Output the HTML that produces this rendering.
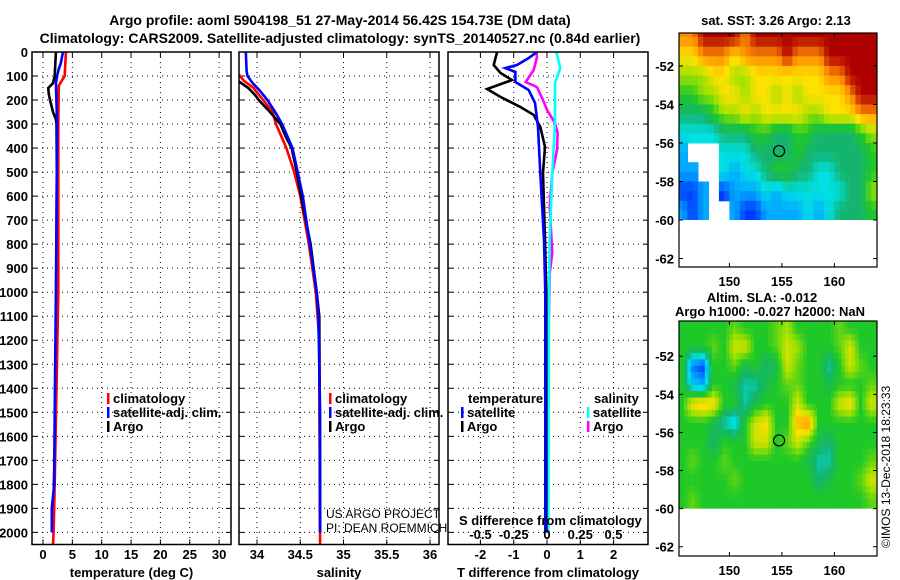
<!DOCTYPE html>
<html><head><meta charset="utf-8"><style>
html,body{margin:0;padding:0;background:#fff;}
svg{display:block;font-family:"Liberation Sans",Arial,sans-serif;}
.b{font-weight:bold;font-size:13px;}
</style></head><body>
<svg id="c" width="900" height="580" viewBox="0 0 900 580" xmlns="http://www.w3.org/2000/svg">
<text x="340" y="25" text-anchor="middle" font-size="14" font-weight="bold">Argo profile: aoml 5904198_51 27-May-2014 56.42S 154.73E (DM data)</text>
<text x="340" y="43" text-anchor="middle" font-size="14" font-weight="bold">Climatology: CARS2009. Satellite-adjusted climatology: synTS_20140527.nc (0.84d earlier)</text>
<text x="776" y="25" text-anchor="middle" class="b">sat. SST: 3.26 Argo: 2.13</text>
<text x="762" y="302" text-anchor="middle" class="b">Altim. SLA: -0.012</text>
<text x="770" y="316" text-anchor="middle" class="b">Argo h1000: -0.027 h2000: NaN</text>
<text transform="translate(890,548) rotate(-90)" font-size="12">©IMOS 13-Dec-2018 18:23:33</text>
<g id="g"></g>
</svg>
<script>
// ---- profile data (depth in m) ----
const tArgoDepth=[0,50,100,130,150,170,200,230,250,280,300,500,800,1000,1500,2000];
const tArgo=[2.2,2.1,2.0,1.7,0.9,0.95,1.2,1.5,1.7,2.2,2.3,2.35,2.3,2.25,2.1,1.7];
const tClimDepth=[0,100,140,300,1000,1400,1800,2000,2050];
const tClim=[3.9,3.7,2.7,2.6,2.6,2.3,2.0,1.8,1.7];
const tSatDepth=[0,50,70,100,130,300,700,1000,1500,1800,1900,2000];
const tSat=[3.4,3.0,2.7,2.4,2.2,2.4,2.3,2.2,2.0,1.9,1.5,1.5];
const sArgoDepth=[0,120,150,180,200,250,300,350,400,500,600,800,1000,1100,2000];
const sArgo=[33.7,33.78,33.9,33.98,34.02,34.15,34.27,34.33,34.4,34.46,34.51,34.62,34.69,34.72,34.73];
const sClimDepth=[0,90,120,150,200,250,300,400,500,600,800,1000,1200,2050];
const sClim=[33.75,33.78,33.85,33.96,34.07,34.18,34.22,34.34,34.43,34.5,34.6,34.68,34.72,34.73];
const sSatDepth=[0,80,100,130,160,200,250,300,400,500,600,800,1000,1100,1500,2000];
const sSat=[33.87,33.88,33.89,33.95,34.03,34.12,34.21,34.29,34.41,34.47,34.53,34.61,34.69,34.71,34.73,34.73];
const dtArgoDepth=[0,54,87,117,129,154,187,229,262,312,395,504,783,1000,2000];
const dtArgo=[-1.5,-1.6,-1.4,-1.05,-1.3,-1.8,-1.4,-0.8,-0.4,-0.2,-0.06,-0.12,-0.06,-0.02,-0.02];
const dtSatDepth=[0,25,54,67,83,125,158,212,312,504,783,1000,2000];
const dtSat=[-0.3,-0.55,-0.9,-1.25,-0.95,-0.95,-0.55,-0.36,-0.27,-0.2,-0.09,-0.05,-0.05];
const dsArgoDepth=[0,21,75,125,146,200,241,296,337,408,504,645,837,920,1100];
const dsArgo=[-0.08,-0.075,-0.1,-0.16,-0.075,-0.03,0,0.06,0.08,0.075,0.04,0.02,0.04,0.02,0.015];
const dsSatDepth=[0,67,129,296,504,783,1000,2000];
const dsSat=[0.07,0.1,0.06,0.06,0.04,0.02,0.015,0.01];
const depthTicks=[0,100,200,300,400,500,600,700,800,900,1000,1100,1200,1300,1400,1500,1600,1700,1800,1900,2000];
const tTicks=[0,5,10,15,20,25,30];
const sTicks=[34,34.5,35,35.5,36];
const sTickLabels=["34","34.5","35","35.5","36"];
const dtTicks=[-2,-1,0,1,2];
const dsTicks=[-0.5,-0.25,0,0.25,0.5];
const dsTickLabels=["-0.5","-0.25","0","0.25","0.5"];
// ---- map data: jet index 0..9, -1 = no data; rows lat -50.5..-59.5, cols lon 145.5..163.5 ----
const sstGrid=[
[8,8,9,9,9,9,8,9,9,9,9,9,9,9,9,9,9,9,9],
[7,7,8,8,8,7,8,8,8,8,9,8,8,8,9,9,9,9,9],
[6,6,6,7,7,6,6,7,7,7,7,7,7,7,8,8,9,9,9],
[5,5,6,6,7,7,6,7,7,6,7,6,7,7,7,7,8,9,9],
[4,4,4,5,6,6,7,6,7,7,7,7,6,6,7,7,7,8,8],
[3,3,3,3,4,4,4,5,5,4,4,5,5,4,4,4,4,5,6],
[2,-1,-1,-1,3,3,3,4,4,4,4,5,4,4,4,4,4,4,5],
[2,2,-1,-1,3,2,3,3,4,5,5,4,4,3,3,4,4,4,5],
[1,1,2,-1,1,2,2,2,3,2,3,3,3,3,3,3,4,4,6],
[2,1,2,-1,-1,2,1,1,2,2,2,2,3,2,3,4,4,4,5]];
const slaGrid=[
[5,5,5,5,5,5.5,5,5,5,5.5,6,5,5,5,5,5.5,5,5,5],
[5,5,5,5.5,5,6.5,6.5,5,5,5.5,6.5,6,5,5,5,5.5,6.5,5,5],
[5,1.5,1,5,5,5.5,4.5,5,4,4.5,6.5,5.5,5,5,3.5,5,6.5,5.5,5],
[5,2.5,2,5,5,4.5,3.5,3.5,4.5,5,5.5,5.5,5,5,4.5,5,5,5,5.5],
[5,7,7.5,7,5,5,3.5,4.5,5,5,5,6.5,5,5,5,6.5,7,5,6.5],
[5,5,5,4.5,3.5,2.5,5,6.5,7,5,5,7.5,8,5,5,5,5,5,5],
[5,5,5,4,5,5,5,6.5,6.5,5,5.5,6.5,5.5,4.5,4,5,5,5,5],
[5,5.5,5,5,5.5,5,5,5,5,5,5,5,4.5,3.5,3.5,5,5,5,5.5],
[5,5,5,5,5,5.5,5,5,5,5,5,5,5,4,4.5,5,5,5.5,6.5],
[5,5.5,5,5,5,5,5,5,5,5,5,5,5,5,5,5,5,5,5.5]];
const lonTicks=[150,155,160];
const latTicks=[-52,-54,-56,-58,-60,-62];
const argoLon=154.73, argoLat=-56.42;

const NS="http://www.w3.org/2000/svg";
const G=document.getElementById('g');
function el(t,a,p){const e=document.createElementNS(NS,t);for(const k in a)e.setAttribute(k,a[k]);(p||G).appendChild(e);return e;}
const yD=d=>52+d*0.2402;
const PB=544.5;
const jetRGB=[[0,0,150],[0,60,255],[0,170,255],[0,225,225],[20,180,110],[30,200,40],[160,225,0],[255,225,0],[255,140,0],[175,0,0]];
function cmap(v){const i=Math.max(0,Math.min(8.999,v));const a=Math.floor(i),f=i-a;const c0=jetRGB[a],c1=jetRGB[Math.min(9,a+1)];
  return 'rgb('+c0.map((c,k)=>Math.round(c+(c1[k]-c)*f)).join(',')+')';}

function panel(x0,x1,name,vticks,xf,labels,title){
  const g=el('g',{});
  
  
  for(const d of depthTicks){const l=el('line',{x1:x0,x2:x1,y1:yD(d),y2:yD(d),stroke:'#000','stroke-width':1,'stroke-dasharray':'1 4'},g);}
  vticks.forEach((v,i)=>{const x=xf(v);
    const l=el('line',{x1:x,x2:x,y1:52,y2:PB,stroke:'#000','stroke-width':1,'stroke-dasharray':'1 4'},g);
    el('line',{x1:x,x2:x,y1:PB,y2:PB-5,stroke:'#000'},g);el('line',{x1:x,x2:x,y1:52,y2:57,stroke:'#000'},g);
    const t=el('text',{x:x,y:559,'text-anchor':'middle',class:'b'},g);t.textContent=labels[i];});
  const t=el('text',{x:(x0+x1)/2,y:577,'text-anchor':'middle',class:'b'},g);t.textContent=title;
  return g;
}
function frame(x0,x1,g){const r=el('rect',{x:x0,y:52,width:x1-x0,height:PB-52,fill:'none',stroke:'#000','stroke-width':1.5},g);}
function line(depths,vals,xf,color,name,clip,g){
  const pts=depths.map((d,i)=>xf(vals[i]).toFixed(1)+','+yD(d).toFixed(1)).join(' ');
  const p=el('polyline',{points:pts,fill:'none',stroke:color,'stroke-width':2.6,'clip-path':'url(#'+clip+')'},g);
  
}
const defs=el('defs',{});
[['c1',32,231],['c2',239,439],['c3',448,648]].forEach(([id,a,b])=>{const c=el('clipPath',{id:id},defs);el('rect',{x:a,y:52,width:b-a,height:PB-52},c);});

for(const d of depthTicks){const t=el('text',{x:28,y:yD(d)+5,'text-anchor':'end',class:'b'});t.textContent=d;
  [[32,37],[226,231],[239,244],[434,439],[448,453],[643,648]].forEach(([a,b])=>el('line',{x1:a,x2:b,y1:yD(d),y2:yD(d),stroke:'#000'}));}

const xT=v=>43+5.87*v;
const g1=panel(32,231,'temperature-panel',tTicks,xT,tTicks.map(String),'temperature (deg C)');
line(tArgoDepth,tArgo,xT,'#000','argo-temperature-line','c1',g1);
line(tClimDepth,tClim,xT,'#f00','climatology-temperature-line','c1',g1);
line(tSatDepth,tSat,xT,'#00f','satellite-temperature-line','c1',g1);
frame(32,231,g1);
const xS=v=>257+86.5*(v-34);
const g2=panel(239,439,'salinity-panel',sTicks,xS,sTickLabels,'salinity');
line(sClimDepth,sClim,xS,'#f00','climatology-salinity-line','c2',g2);
line(sArgoDepth,sArgo,xS,'#000','argo-salinity-line','c2',g2);
line(sSatDepth,sSat,xS,'#00f','satellite-salinity-line','c2',g2);
frame(239,439,g2);
const xdT=v=>547+33.3*v, xdS=v=>547+133*v;
const g3=panel(448,648,'difference-panel',dtTicks,xdT,dtTicks.map(String),'T difference from climatology');
line(dsArgoDepth,dsArgo,xdS,'#f0f','argo-salinity-diff-line','c3',g3);
line(dsSatDepth,dsSat,xdS,'#0ff','satellite-salinity-diff-line','c3',g3);
line(dtArgoDepth,dtArgo,xdT,'#000','argo-temperature-diff-line','c3',g3);
line(dtSatDepth,dtSat,xdT,'#00f','satellite-temperature-diff-line','c3',g3);
frame(448,648,g3);
{const t=el('text',{x:459,y:525,class:'b'});t.textContent='S difference from climatology';}
dsTicks.forEach((v,i)=>{const t=el('text',{x:xdS(v),y:539,'text-anchor':'middle',class:'b'});t.textContent=dsTickLabels[i];});

function leg(x,y,color,label,name){const g=el('g',{});
  if(color)el('rect',{x:x,y:y-10,width:2.5,height:11,fill:color},g);
  const t=el('text',{x:x+(color?6:0),y:y,class:'b'},g);t.textContent=label;}
leg(107,403,'#f00','climatology','legend-climatology');
leg(107,417,'#00f','satellite-adj. clim.','legend-satellite-adj');
leg(107,431,'#000','Argo','legend-argo');
leg(329,403,'#f00','climatology','legend-climatology-2');
leg(329,417,'#00f','satellite-adj. clim.','legend-satellite-adj-2');
leg(329,431,'#000','Argo','legend-argo-2');
leg(468,403,null,'temperature','legend-temperature-header');
leg(461,417,'#00f','satellite','legend-t-satellite');
leg(461,431,'#000','Argo','legend-t-argo');
leg(594,403,null,'salinity','legend-salinity-header');
leg(587,417,'#0ff','satellite','legend-s-satellite');
leg(587,431,'#f0f','Argo','legend-s-argo');
{const t=el('text',{x:326,y:518,'font-size':12});t.textContent='US ARGO PROJECT';
 const u=el('text',{x:326,y:532,'font-size':12});u.textContent='PI: DEAN ROEMMICH';}

function sample(grid,r,c){const R=grid.length,C=grid[0].length;
  r=Math.max(0,Math.min(R-1,r));c=Math.max(0,Math.min(C-1,c));
  const r0=Math.floor(r),c0=Math.floor(c),r1=Math.min(R-1,r0+1),c1=Math.min(C-1,c0+1),fr=r-r0,fc=c-c0;
  const v=[grid[r0][c0],grid[r0][c1],grid[r1][c0],grid[r1][c1]];
  if(grid[Math.round(r)][Math.round(c)]<0)return -1;
  const w=[(1-fr)*(1-fc),(1-fr)*fc,fr*(1-fc),fr*fc];let s=0,ws=0;
  v.forEach((x,i)=>{if(x>=0){s+=x*w[i];ws+=w[i];}});return ws?s/ws:-1;}

function map(name,grid,top,bottom,latTop,pxDeg,sub){
  const x0=679,x1=877,lonL=145.2,pxLon=10.5;
  const xL=v=>x0+(v-lonL)*pxLon, yL=v=>top+(latTop-v)*pxDeg;
  const g=el('g',{});
  const cp=el('clipPath',{id:name+'-clip'},defs);el('rect',{x:x0,y:top,width:x1-x0,height:yL(-60)-top},cp);
  const cg=el('g',{'clip-path':'url(#'+name+'-clip)'},g);
  const R=grid.length,C=grid[0].length,step=1/sub;
  const nRows=Math.round(10.5*sub),nCols=Math.round(19*sub);
  for(let i=0;i<nRows;i++){const lat=-49.5-i*step;
    for(let j=0;j<nCols;j++){const lon=145+j*step;
      const r=Math.min(R-1,Math.max(0,(-50.5-(lat-step/2))));
      const c=(lon+step/2)-145.5;
      const v=sample(grid,r,c);if(v<0)continue;
      const rc=el('rect',{x:xL(lon).toFixed(1),y:yL(lat).toFixed(1),width:(pxLon*step+0.6).toFixed(1),height:(pxDeg*step+0.6).toFixed(1),fill:cmap(v)},cg);
      
      
    }}
  const ci=el('circle',{cx:xL(argoLon),cy:yL(argoLat),r:5.5,fill:'none',stroke:'#000','stroke-width':1.2},g);
  
  el('rect',{x:x0,y:top,width:x1-x0,height:bottom-top,fill:'none',stroke:'#000','stroke-width':1.2},g);
  latTicks.forEach(v=>{const y=yL(v);el('line',{x1:x0,x2:x0+4,y1:y,y2:y,stroke:'#000'},g);el('line',{x1:x1-4,x2:x1,y1:y,y2:y,stroke:'#000'},g);
    const t=el('text',{x:674,y:y+5,'text-anchor':'end',class:'b'},g);t.textContent=v;});
  lonTicks.forEach(v=>{const x=xL(v);el('line',{x1:x,x2:x,y1:bottom,y2:bottom-4,stroke:'#000'},g);el('line',{x1:x,x2:x,y1:top,y2:top+4,stroke:'#000'},g);
    const t=el('text',{x:x,y:bottom+19,'text-anchor':'middle',class:'b'},g);t.textContent=v;});
}
map('sst-map',sstGrid,33,267,-50.29,19.26,2);
map('sla-map',slaGrid,321,556,-50.15,19.05,3);
</script>
</body></html>
